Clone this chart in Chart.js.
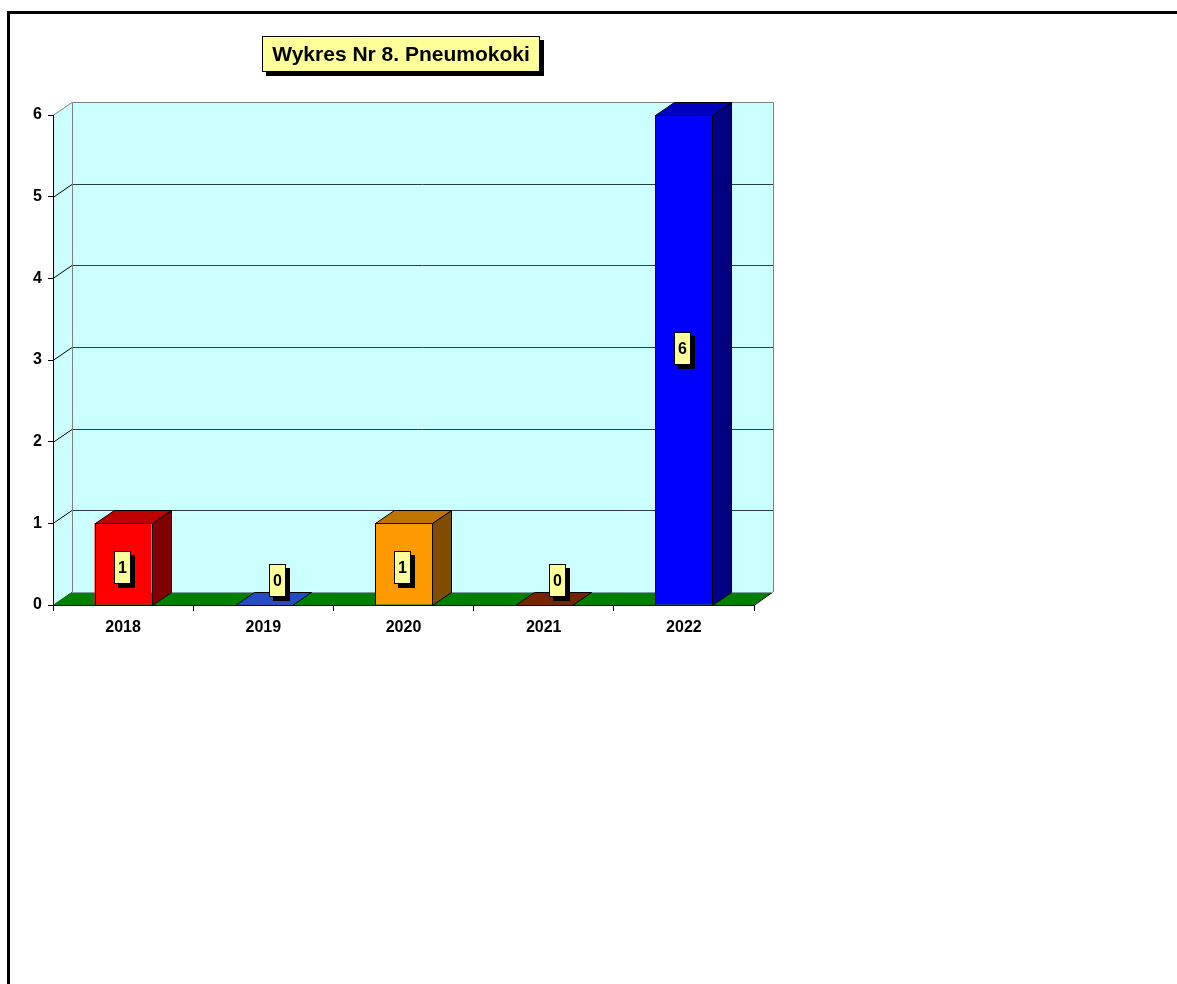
<!DOCTYPE html>
<html>
<head>
<meta charset="utf-8">
<script src="https://cdn.jsdelivr.net/npm/chart.js@4/dist/chart.umd.min.js"></script>
<style>
  html, body { margin: 0; padding: 0; background: #fff; overflow: hidden; }
  #frame { position: absolute; left: 7px; top: 11px; width: 1200px; height: 1000px;
           border-top: 3px solid #000; border-left: 3px solid #000; }
  canvas { position: absolute; left: 0; top: 0; }
</style>
</head>
<body>
<div id="frame"></div>
<canvas id="chart1" width="1177" height="984"></canvas>
<script>
var years = ["2018", "2019", "2020", "2021", "2022"];
var cases = [1, 0, 1, 0, 6];
var yTicks = [0, 1, 2, 3, 4, 5, 6];
var chartTitle = "Wykres Nr 8. Pneumokoki";

// colours of the front faces, tops and sides are darker versions
var frontColors = ["#FF0000", "#3366FF", "#FF9900", "#993300", "#0000FF"];
var FONT = "Arial, 'Liberation Sans', sans-serif";
var DX = 19, DY = 13; // depth of the 3d effect

function shade(hex, f) {
  var n = parseInt(hex.slice(1), 16);
  var r = Math.round(((n >> 16) & 255) * f);
  var g = Math.round(((n >> 8) & 255) * f);
  var b = Math.round((n & 255) * f);
  return "rgb(" + r + "," + g + "," + b + ")";
}

function poly(ctx, pts, fill, stroke) {
  ctx.beginPath();
  ctx.moveTo(pts[0][0], pts[0][1]);
  for (var i = 1; i < pts.length; i++) ctx.lineTo(pts[i][0], pts[i][1]);
  ctx.closePath();
  if (fill) { ctx.fillStyle = fill; ctx.fill(); }
  if (stroke) { ctx.strokeStyle = stroke; ctx.lineWidth = 1; ctx.stroke(); }
}

function labelBox(ctx, text, cx, cy, font, padX, h) {
  ctx.font = font;
  var w = Math.round(ctx.measureText(text).width + padX * 2);
  var x = Math.round(cx - w / 2), y = Math.round(cy - h / 2);
  ctx.fillStyle = "#000";
  ctx.fillRect(x + 4, y + 4, w, h);
  ctx.fillStyle = "#FFFF99";
  ctx.fillRect(x, y, w, h);
  ctx.strokeStyle = "#000";
  ctx.lineWidth = 1;
  ctx.strokeRect(x + 0.5, y + 0.5, w - 1, h - 1);
  ctx.fillStyle = "#000";
  ctx.textAlign = "center";
  ctx.textBaseline = "middle";
  ctx.fillText(text, x + w / 2, y + h / 2 + 1);
}

var box3d = {
  id: "box3d",
  beforeDraw: function (chart) {
    var ctx = chart.ctx, a = chart.chartArea, ys = chart.scales.y;
    ctx.save();
    // side wall and back wall
    poly(ctx, [[a.left, a.top], [a.left + DX, a.top - DY], [a.left + DX, a.bottom - DY], [a.left, a.bottom]], "#CCFFFF");
    ctx.fillStyle = "#CCFFFF";
    ctx.fillRect(a.left + DX, a.top - DY, a.right - a.left, a.bottom - a.top);
    // grid lines
    ctx.lineWidth = 1;
    yTicks.forEach(function (v) {
      var py = Math.round(ys.getPixelForValue(v)) + 0.5;
      if (v > 0 && v < 6) {
        ctx.strokeStyle = "#2F3F3F";
        ctx.beginPath();
        ctx.moveTo(a.left + DX, py - DY);
        ctx.lineTo(a.right + DX, py - DY);
        ctx.stroke();
      }
      ctx.strokeStyle = v === 6 ? "#808080" : "#000";
      ctx.beginPath();
      ctx.moveTo(a.left, py);
      ctx.lineTo(a.left + DX, py - DY);
      ctx.stroke();
    });
    // wall edges
    ctx.strokeStyle = "#808080";
    ctx.beginPath();
    ctx.moveTo(a.left + DX + 0.5, a.bottom - DY);
    ctx.lineTo(a.left + DX + 0.5, a.top - DY + 0.5);
    ctx.lineTo(a.right + DX + 0.5, a.top - DY + 0.5);
    ctx.lineTo(a.right + DX + 0.5, a.bottom - DY);
    ctx.stroke();
    // floor
    poly(ctx, [[a.left, a.bottom], [a.right, a.bottom], [a.right + DX, a.bottom - DY], [a.left + DX, a.bottom - DY]], "#008000");
    ctx.strokeStyle = "#000";
    ctx.beginPath();
    ctx.moveTo(a.right, a.bottom + 0.5);
    ctx.lineTo(a.right + DX, a.bottom - DY);
    ctx.stroke();
    ctx.strokeStyle = "#7F9F9F";
    ctx.beginPath();
    ctx.moveTo(a.left + DX, a.bottom - DY + 0.5);
    ctx.lineTo(a.right + DX, a.bottom - DY + 0.5);
    ctx.stroke();
    ctx.restore();
  },
  afterDatasetsDraw: function (chart) {
    var ctx = chart.ctx, ys = chart.scales.y;
    var meta = chart.getDatasetMeta(0);
    ctx.save();
    meta.data.forEach(function (bar, i) {
      var p = bar.getProps(["x", "y", "base", "width"], true);
      var x0 = Math.round(p.x - p.width / 2) + 0.5, x1 = Math.round(p.x + p.width / 2) + 0.5;
      var top = Math.round(p.y) + 0.5, base = Math.round(p.base) + 0.5;
      if (base - top > 1) {
        poly(ctx, [[x1, top], [x1 + DX, top - DY], [x1 + DX, base - DY], [x1, base]], shade(frontColors[i], 0.5), "#000");
        // outline of the front face
        ctx.strokeRect(x0, top, x1 - x0, base - top);
      }
      poly(ctx, [[x0, top], [x1, top], [x1 + DX, top - DY], [x0 + DX, top - DY]], shade(frontColors[i], 0.75), "#000");
    });
    meta.data.forEach(function (bar, i) {
      var p = bar.getProps(["x", "base"], true);
      var v = cases[i];
      var cx = v === 0 ? p.x + 14 : p.x - 1;
      var cy = v === 0 ? p.base - 25 : ys.getPixelForValue(v / 2) - (v > 3 ? 12 : -3);
      labelBox(ctx, String(v), cx, cy, "bold 16px " + FONT, 4, 33);
    });
    ctx.restore();
  },
  afterDraw: function (chart) {
    var ctx = chart.ctx;
    ctx.save();
    labelBox(ctx, chartTitle, 400.5, 53.5, "bold 21px " + FONT, 10, 36);
    ctx.restore();
  }
};

var tickFont = { family: FONT, size: 16, weight: "bold" };

var chart = new Chart(document.getElementById("chart1").getContext("2d"), {
  type: "bar",
  data: {
    labels: years,
    datasets: [
      {
        data: cases,
        backgroundColor: frontColors,
        borderColor: "#000",
        borderWidth: 0,
        borderSkipped: false,
        barPercentage: 0.407,
        categoryPercentage: 1,
      },
    ],
  },
  options: {
    responsive: false,
    animation: false,
    layout: { padding: { left: 0, top: 115, right: 423, bottom: 339 } },
    plugins: {
      legend: { display: false },
      tooltip: { enabled: false },
      title: { display: false },
    },
    scales: {
      x: {
        grid: { drawOnChartArea: false, tickLength: 6, color: "#000", offset: true },
        border: { color: "#000", width: 1 },
        ticks: { color: "#000", font: tickFont, padding: 7, maxRotation: 0 },
        afterFit: function (s) { s.height = 40; },
      },
      y: {
        min: 0,
        max: 6,
        afterBuildTicks: function (s) {
          s.ticks = yTicks.map(function (v) { return { value: v }; });
        },
        ticks: { color: "#000", font: tickFont, padding: 6 },
        grid: { drawOnChartArea: false, tickLength: 5, color: "#000" },
        border: { color: "#000", width: 1 },
        afterFit: function (s) { s.width = 53; },
      },
    },
  },
  plugins: [box3d],
});
</script>
</body>
</html>
